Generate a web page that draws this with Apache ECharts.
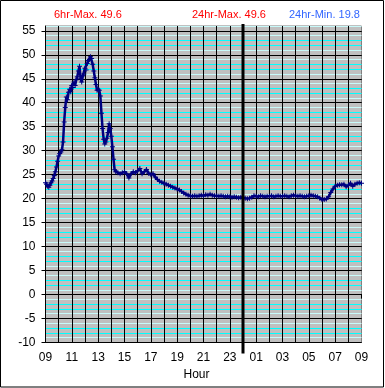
<!DOCTYPE html>
<html>
<head>
<meta charset="utf-8">
<script src="https://cdn.jsdelivr.net/npm/echarts@6/dist/echarts.min.js"></script>
<style>
html,body{margin:0;padding:0;background:#fff;}
#chart{width:385px;height:388px;}
</style>
</head>
<body>
<div id="chart"></div>
<script>
// ---- data ----
const titles = ['6hr-Max. 49.6', '24hr-Max. 49.6', '24hr-Min. 19.8'];
const startHour = 9;           // axis starts at 09:00
const midnightHour = 24;       // thick divider line
const xTickHours = [9, 11, 13, 15, 17, 19, 21, 23, 1, 3, 5, 7, 9];
const hourGrid = [1,2,3,4,5,6,7,8,9,10,11,12,13,14,15,16,17,18,19,20,21,22,23];
const yTicks = [-10, -5, 0, 5, 10, 15, 20, 25, 30, 35, 40, 45, 50, 55];

const times = [
 '09:00','09:05','09:10','09:15','09:20','09:25','09:30','09:35','09:40','09:45','09:50','09:55',
 '10:00','10:05','10:10','10:15','10:20','10:25','10:30','10:35','10:40','10:45','10:50','10:55',
 '11:00','11:05','11:10','11:15','11:20','11:25','11:30','11:35','11:40','11:45','11:50','11:55',
 '12:00','12:05','12:10','12:15','12:20','12:25','12:30','12:35','12:40','12:45','12:50','12:55',
 '13:00','13:05','13:10','13:15','13:20','13:25','13:30','13:35','13:40','13:45','13:50','13:55',
 '14:00','14:05','14:10','14:15','14:20',
 '14:30','14:40','14:50','15:00','15:10','15:20','15:30','15:40','15:50',
 '16:00','16:10','16:20','16:30','16:40','16:50','17:00','17:10','17:20','17:30','17:40','17:50',
 '18:00','18:10','18:20','18:30','18:40','18:50','19:00','19:10','19:20','19:30','19:40','19:50',
 '20:00','20:10','20:20','20:30','20:40','20:50','21:00','21:10','21:20','21:30','21:40','21:50',
 '22:00','22:10','22:20','22:30','22:40','22:50','23:00','23:10','23:20','23:30','23:40','23:50',
 '00:00','00:10','00:20','00:30','00:40','00:50','01:00','01:10','01:20','01:30','01:40','01:50',
 '02:00','02:10','02:20','02:30','02:40','02:50','03:00','03:10','03:20','03:30','03:40','03:50',
 '04:00','04:10','04:20','04:30','04:40','04:50','05:00','05:10','05:20','05:30','05:40','05:50',
 '06:00','06:10','06:20','06:30','06:40','06:50','07:00','07:10','07:20','07:30','07:40','07:50',
 '08:00','08:10','08:20','08:30','08:40','08:50','09:00'
];
const temps = [
 23.3,23.0,22.6,22.4,22.8,23.3,23.7,24.2,24.8,25.6,26.6,27.8,
 28.9,29.4,29.7,30.2,31.8,36.0,39.0,41.2,40.6,42.2,42.8,42.3,
 43.6,43.2,44.3,43.6,44.8,45.4,46.6,47.6,45.0,44.3,45.6,46.0,
 47.2,46.8,48.2,48.8,49.0,49.6,49.2,48.0,46.6,45.2,43.8,42.6,
 42.8,42.6,41.4,37.8,34.6,32.4,31.4,31.8,32.6,33.8,35.6,34.6,
 33.0,30.8,28.2,26.0,25.6,
 25.4,25.2,25.4,25.6,25.2,24.3,25.2,25.6,25.4,
 25.8,26.3,25.2,25.6,26.1,25.3,25.0,25.2,24.5,24.0,23.6,23.4,
 23.2,23.0,22.8,22.6,22.4,22.2,22.0,21.8,21.5,21.2,20.9,20.7,
 20.6,20.5,20.6,20.5,20.6,20.7,20.6,20.8,20.7,20.9,20.7,20.6,
 20.6,20.5,20.6,20.5,20.4,20.5,20.4,20.3,20.4,20.3,20.2,20.3,
 20.2,20.1,20.0,20.1,20.3,20.6,20.5,20.4,20.6,20.5,20.4,20.5,
 20.5,20.6,20.4,20.5,20.6,20.5,20.5,20.6,20.5,20.4,20.6,20.7,
 20.6,20.5,20.6,20.5,20.4,20.5,20.6,20.7,20.6,20.5,20.4,20.1,
 19.8,19.8,19.9,20.4,21.3,22.0,22.6,22.8,22.9,22.9,23.0,22.5,
 22.8,23.2,22.6,23.0,23.2,23.3,23.2
];

// ---- build ----
function toOffsets(list) {
  let dayAdd = 0, prev = -1;
  return list.map(t => {
    const [hh, mm] = t.split(':').map(Number);
    let h = hh + mm / 60;
    if (h + dayAdd < prev) dayAdd += 24;
    h += dayAdd;
    prev = h;
    return h - startHour;
  });
}
const offs = toOffsets(times);
const seriesData = offs.map((x, i) => [x, temps[i]]);
const pad2 = n => (n < 10 ? '0' : '') + n;

const FONT = '"Liberation Sans", Arial, sans-serif';
const minorColors = ['#000000', '#c8fafa', '#00ffff', '#00ffff', '#c8fafa'];
const plus = 'path://M2,0H3V2H5V3H3V5H2V3H0V2H2Z';

const chart = echarts.init(document.getElementById('chart'), null, {renderer: 'canvas'});
const titleColors = ['#ff0000', '#ff0000', '#3366ff'];
const titleLefts = [54, 192, 289];

const option = {
  animation: false,
  backgroundColor: '#ffffff',
  title: titles.map((t, i) => ({
    text: t, left: titleLefts[i], top: 9, padding: 0,
    textStyle: {color: titleColors[i], fontSize: 11, fontWeight: 'normal', fontFamily: FONT}
  })),
  grid: {
    left: 45.5, right: 23.5, top: 26, bottom: 45.5,
    show: true, backgroundColor: '#c0c0c0', borderColor: '#808080', borderWidth: 1
  },
  xAxis: [
    {
      type: 'value', min: 0, max: 24, interval: 2, position: 'bottom', z: 3,
      axisLine: {show: true, lineStyle: {color: '#000', width: 1}},
      axisTick: {show: true, length: 4, lineStyle: {color: '#000'}},
      axisLabel: {
        margin: 9, color: '#000', fontSize: 12, fontFamily: FONT,
        formatter: v => pad2(xTickHours[Math.round(v / 2)])
      },
      splitLine: {show: false},
      name: 'Hour', nameLocation: 'middle', nameGap: 25,
      nameTextStyle: {color: '#000', fontSize: 12, fontFamily: FONT, padding: [0, 14, 0, 0]}
    }
  ],
  yAxis: [
    {
      type: 'value', min: -10, max: 56, interval: 5, position: 'left', z: 2,
      axisLine: {show: true, lineStyle: {color: '#000', width: 1}},
      axisTick: {show: true, length: 4, lineStyle: {color: '#000'}},
      axisLabel: {
        margin: 10, color: '#000', fontSize: 12, fontFamily: FONT, showMaxLabel: false,
        formatter: v => (yTicks.indexOf(v) >= 0 ? String(v) : '')
      },
      splitLine: {show: true, showMaxLine: false, lineStyle: {color: '#000', width: 1}}
    },
    {
      type: 'value', min: -10, max: 56, interval: 1, position: 'right', z: 0,
      axisLine: {show: false}, axisTick: {show: false}, axisLabel: {show: false},
      splitLine: {show: true, lineStyle: {color: minorColors, width: 1}}
    }
  ],
  graphic: [
    {id: 'border', type: 'rect', shape: {x: 0.5, y: 0.5, width: 383, height: 386.5},
     style: {fill: 'none', stroke: '#000', lineWidth: 1}, z: 100, silent: true}
  ],
  series: [
    {
      // hourly vertical grid lines
      type: 'line', xAxisIndex: 0, yAxisIndex: 0, data: [], z: 1, silent: true,
      markLine: {
        silent: true, symbol: ['none', 'none'], animation: false,
        label: {show: false},
        lineStyle: {color: '#000', width: 1, type: 'solid'},
        emphasis: {disabled: true},
        data: hourGrid.map(v => ({xAxis: v}))
      }
    },
    {
      type: 'line',
      xAxisIndex: 0, yAxisIndex: 0,
      data: seriesData,
      showSymbol: true, showAllSymbol: true,
      symbol: plus, symbolSize: 5,
      itemStyle: {color: '#000080'},
      lineStyle: {color: '#000080', width: 2.5},
      z: 5
    }
  ]
};
chart.setOption(option);

// thick midnight divider, positioned through the axis scale
const mx = chart.convertToPixel({xAxisIndex: 0}, midnightHour - startHour);
const yTop = chart.convertToPixel({yAxisIndex: 0}, 56);
const yBot = chart.convertToPixel({yAxisIndex: 0}, -10);
chart.setOption({
  graphic: [
    {id: 'midnight', type: 'line', shape: {x1: mx, y1: yTop - 2, x2: mx, y2: yBot + 11},
     style: {stroke: '#000', lineWidth: 3}, z: 50, silent: true}
  ]
});
</script>
</body>
</html>
